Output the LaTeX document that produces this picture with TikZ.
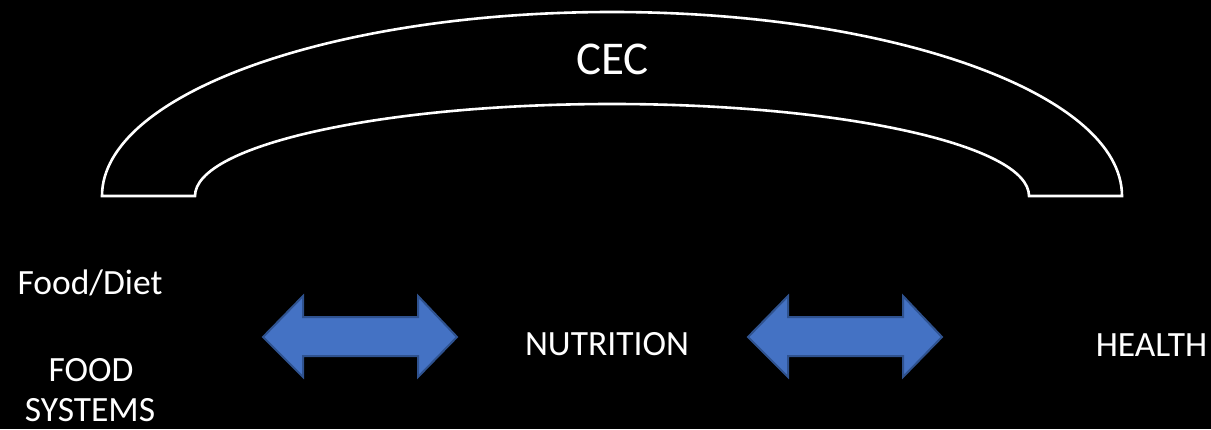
\documentclass[tikz,border=0pt]{standalone}
\usepackage{fontspec}
\setmainfont{Carlito}
\definecolor{arrowfill}{HTML}{4472C4}
\definecolor{arrowline}{HTML}{2F528F}
\begin{document}
\begin{tikzpicture}[x=1pt,y=1pt,
  label/.style={text=white,font=\fontsize{35.5}{42}\selectfont,anchor=base,inner sep=0pt},
  bigarrow/.style={fill=arrowfill,draw=arrowline,line width=2pt,line join=miter},
  archline/.style={draw=white,line width=2.6pt,line join=miter}]
  % page
  \fill[black] (0,0) rectangle (1211,429);
  \useasboundingbox (0,0) rectangle (1211,429);

  % block arc over the chain
  \path[archline] (102,233) arc[start angle=180,end angle=0,x radius=510,y radius=184]
    -- (1029,233) arc[start angle=0,end angle=180,x radius=417,y radius=92]
    -- cycle;
  \node[label,font=\fontsize{47}{54}\selectfont] (cec) at (612.5,354) {CEC};

  % left column
  \node[label] (diet) at (90,135) {Food/Diet};
  \node[label] (food) at (91,48) {FOOD};
  \node[label] (sys) at (90,8) {SYSTEMS};

  % middle and right
  \node[label] (nutr) at (607,74) {NUTRITION};
  \node[label] (health) at (1151.5,73) {HEALTH};

  % double-headed block arrows
  \path[bigarrow] (263,92) -- (303,133) -- (303,112) -- (418,112) -- (418,133)
    -- (457,92) -- (418,52) -- (418,73) -- (303,73) -- (303,52) -- cycle;
  \path[bigarrow] (748,92) -- (788,133) -- (788,112) -- (903,112) -- (903,133)
    -- (942,92) -- (903,52) -- (903,73) -- (788,73) -- (788,52) -- cycle;
\end{tikzpicture}
\end{document}
